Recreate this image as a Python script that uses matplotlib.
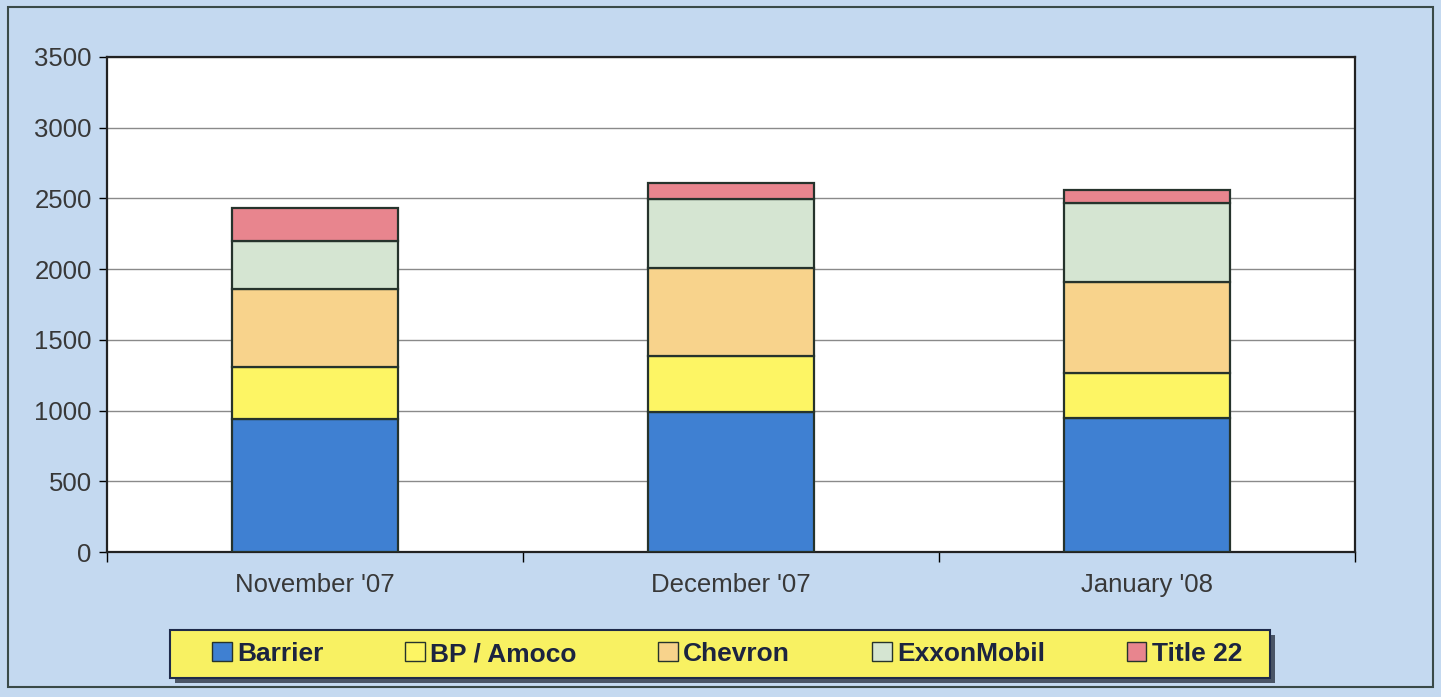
import matplotlib.pyplot as plt
import matplotlib.patches as mpatches
import numpy as np

# Daten
monate = ["November '07", "December '07", "January '08"]
barrier = [940, 990, 945]
bp_amoco = [370, 395, 320]
chevron = [550, 625, 645]
exxon = [340, 485, 560]
title22 = [230, 115, 90]

serien = ["Barrier", "BP / Amoco", "Chevron", "ExxonMobil", "Title 22"]
werte = [barrier, bp_amoco, chevron, exxon, title22]
farben = ["#3f80d2", "#fdf564", "#f8d38c", "#d5e5d2", "#e8858e"]
yticks = [0, 500, 1000, 1500, 2000, 2500, 3000, 3500]

plt.rcParams['font.family'] = ['Liberation Sans', 'DejaVu Sans']

W, H = 1441, 697
fig = plt.figure(figsize=(W / 100, H / 100), dpi=100)
fig.patch.set_facecolor('#c4d9f0')

# Rahmen um das ganze Bild
fig.patches.append(mpatches.Rectangle((8 / W, 10 / H), 1425 / W, 680 / H,
                                      transform=fig.transFigure, fill=False,
                                      edgecolor='#3a4a48', linewidth=1.5))

ax = fig.add_axes([107 / W, 1 - 552 / H, 1248 / W, 495 / H])
ax.set_facecolor('white')

x = np.arange(len(monate))
bottom = np.zeros(len(monate))
handles = []
for name, w, c in zip(serien, werte, farben):
    ax.bar(x, w, bottom=bottom, width=0.4, color=c, edgecolor='#26332c',
           linewidth=1.6, zorder=3)
    bottom += np.array(w)
    handles.append(mpatches.Patch(facecolor=c, edgecolor='#26332c', linewidth=1.0, label=name))

ax.set_xlim(-0.5, 2.5)
ax.set_ylim(0, 3500)
ax.set_yticks(yticks)
ax.tick_params(axis='y', labelsize=18.5, labelcolor='#383838', length=6, width=1, direction='out', pad=5)
ax.set_xticks(x)
ax.set_xticklabels(monate)
ax.tick_params(axis='x', labelsize=18.5, labelcolor='#383838', length=0, pad=15)
ax.set_xticks([-0.5, 0.5, 1.5, 2.5], minor=True)
ax.tick_params(axis='x', which='minor', length=7, width=1)
ax.grid(axis='y', color='#8a8a8a', linewidth=1.0, zorder=0)
for s in ax.spines.values():
    s.set_linewidth(1.6)
    s.set_color('#222222')

# Legendenkasten mit Schatten
fig.patches.append(mpatches.Rectangle((175 / W, 1 - 683 / H), 1100 / W, 48 / H,
                                      transform=fig.transFigure, facecolor='#4a5566',
                                      edgecolor='none', zorder=1))
fig.patches.append(mpatches.Rectangle((170 / W, 1 - 678 / H), 1100 / W, 48 / H,
                                      transform=fig.transFigure, facecolor='#f8f162',
                                      edgecolor='#1e2a4a', linewidth=1.5, zorder=2))

leg = fig.legend(handles=handles, loc='center left',
                 bbox_to_anchor=(212 / W, 1 - 654 / H, 1030 / W, 0),
                 mode='expand', ncol=5, frameon=False,
                 handlelength=0.75, handleheight=0.75, handletextpad=0.2,
                 borderaxespad=0, borderpad=0,
                 prop={'family': ['Liberation Sans Narrow', 'Liberation Sans'], 'weight': 'bold', 'size': 19})
leg.set_zorder(5)
for t in leg.get_texts():
    t.set_color('#1c2440')

fig.savefig('out.png', dpi=100, facecolor=fig.get_facecolor())
